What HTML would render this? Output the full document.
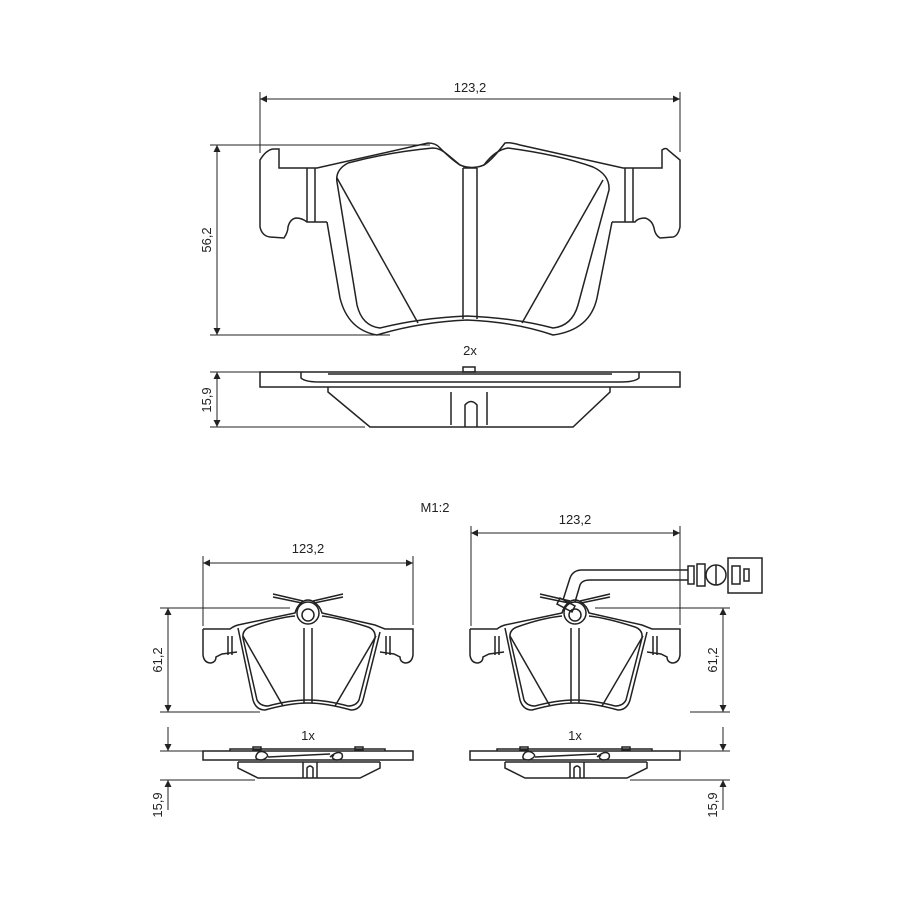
<!DOCTYPE html>
<html><head><meta charset="utf-8"><style>
html,body{margin:0;padding:0;background:#fff;}
svg{display:block;}
text{font-family:"Liberation Sans",sans-serif;font-size:13px;fill:#222;}
</style></head><body>
<svg width="900" height="900" viewBox="0 0 900 900" xmlns="http://www.w3.org/2000/svg">
<defs>
<marker id="a" viewBox="0 0 10 10" refX="10" refY="5" markerWidth="10" markerHeight="7" orient="auto-start-reverse" markerUnits="userSpaceOnUse"><path d="M0,0 L10,5 L0,10 z" fill="#222"/></marker>
<g id="bp" fill="none" stroke="#222" stroke-width="1.5">
  <path d="M203,629 L230,629 Q234,626 238,625 L295,613 Q297,606 302,602 Q308,598 314,602 Q320,606 322,613 L375,625 Q380,627 385,629 L413,629 L413,655 Q412,663 405,663 Q400,662 400,657 L394,654 L380,652"/>
  <path d="M203,629 L203,655 Q204,663 211,663 Q216,662 216,657 L222,654 L237,652"/>
  <path d="M238,628 L253,700 Q256,710 265,710 Q290,703 308,703 Q326,703 351,710 Q360,710 363,700 L380,632"/>
  <path d="M250,627 Q242,630 243,638 L257,700 Q260,706 268,706 Q290,700 308,700 Q326,700 348,706 Q356,706 359,700 L375,638 Q376,630 368,627 Q340,618 322,616"/>
  <path d="M250,627 Q275,618 295,616"/>
  <line x1="243" y1="636" x2="283" y2="706"/>
  <line x1="376" y1="636" x2="335" y2="706"/>
  <path d="M304,628 L304,703 M312,628 L312,703"/>
  <circle cx="308" cy="613" r="11"/>
  <circle cx="308" cy="615" r="6"/>
  <path d="M228,636 L228,655 M232,636 L232,655 M386,636 L386,655 M390,636 L390,655"/>
  <path d="M273,594 L303,601 M273,597 L302,603 M343,594 L313,601 M343,597 L314,603"/>
  <rect x="203" y="751" width="210" height="9"/>
  <path d="M230,751 L230,749 L385,749 L385,751"/>
  <path d="M238,762 L238,768 L258,778 L360,778 L380,768 L380,762"/>
  <path d="M238,762 L380,762"/>
  <path d="M303,762 L303,778 M317,762 L317,778 M307,778 L307,768 Q310,764 313,768 L313,778"/>
  <rect x="253" y="747" width="8" height="3"/>
  <rect x="355" y="747" width="8" height="3"/>
  <path d="M256,756 Q258,750 264,752 Q272,756 262,760 Q255,760 256,756 M268,757 L330,754 M330,757 Q338,750 342,754 Q344,760 336,760 Q330,758 334,755"/>
</g>
</defs>

<g fill="none" stroke="#222" stroke-width="1.5">
  <line x1="260" y1="99" x2="680" y2="99" marker-start="url(#a)" marker-end="url(#a)" stroke-width="1"/>
  <line x1="260" y1="92" x2="260" y2="153" stroke-width="1"/>
  <line x1="680" y1="92" x2="680" y2="152" stroke-width="1"/>
  <line x1="217" y1="145" x2="217" y2="335" marker-start="url(#a)" marker-end="url(#a)" stroke-width="1"/>
  <line x1="210" y1="145" x2="430" y2="145" stroke-width="1"/>
  <line x1="210" y1="335" x2="390" y2="335" stroke-width="1"/>
  <path d="M273,149 L279,149 L279,168 L317,168 L428,143 Q436,143 440,148 Q452,160 460,165 Q472,170 484,165 Q492,160 505,143 Q510,142 520,145 L623,168 L662,168 L662,150 Q666,147 668,150 L680,160 L680,227 Q678,236 673,237 L660,238 Q655,235 654,228 Q652,220 645,218 Q638,218 635,222 L612,222"/>
  <path d="M273,149 Q266,150 260,160 L260,227 Q262,236 270,237 L284,238 Q288,232 288,227 Q290,219 296,218 Q302,218 307,222 L327,222"/>
  <path d="M327,222 L340,298 Q348,330 377,335 Q420,322 467,320 Q515,322 553,335 Q590,330 597,298 L612,222"/>
  <path d="M348,163 Q335,170 337,182 L357,305 Q362,326 380,328 Q420,318 467,316 Q515,318 553,328 Q572,326 578,305 L609,190 Q610,175 593,167 Q560,155 508,148 Q495,150 484,165"/>
  <path d="M348,163 Q390,152 433,148 Q440,148 448,155 L460,165"/>
  <line x1="337" y1="178" x2="418" y2="323"/>
  <line x1="603" y1="180" x2="522" y2="323"/>
  <path d="M463,168 L463,319 M477,168 L477,319 M463,168 L477,168"/>
  <path d="M307,168 L307,222 M315,168 L315,222 M625,168 L625,222 M633,168 L633,222"/>
  <line x1="217" y1="372" x2="217" y2="427" marker-start="url(#a)" marker-end="url(#a)" stroke-width="1"/>
  <line x1="210" y1="372" x2="305" y2="372" stroke-width="1"/>
  <line x1="210" y1="427" x2="365" y2="427" stroke-width="1"/>
  <rect x="260" y="372" width="420" height="15"/>
  <path d="M301,372 L301,378 Q305,382 320,382 L620,382 Q635,382 639,378 L639,372"/>
  <path d="M328,374 L612,374"/>
  <rect x="463" y="367" width="12" height="5"/>
  <path d="M328,387 L328,392 L370,427 L573,427 L610,392 L610,387"/>
  <path d="M451,392 L451,425 M487,392 L487,425 M465,427 L465,405 Q471,398 477,405 L477,427"/>
</g>
<text x="470" y="92" text-anchor="middle">123,2</text>
<text x="211" y="240" text-anchor="middle" transform="rotate(-90 211 240)">56,2</text>
<text x="470" y="355" text-anchor="middle">2x</text>
<text x="211" y="400" text-anchor="middle" transform="rotate(-90 211 400)">15,9</text>
<text x="435" y="512" text-anchor="middle">M1:2</text>

<use href="#bp"/>
<g fill="none" stroke="#222" stroke-width="1">
  <line x1="203" y1="563" x2="413" y2="563" marker-start="url(#a)" marker-end="url(#a)"/>
  <line x1="203" y1="556" x2="203" y2="626"/>
  <line x1="413" y1="556" x2="413" y2="625"/>
  <line x1="168" y1="608" x2="168" y2="712" marker-start="url(#a)" marker-end="url(#a)"/>
  <line x1="160" y1="608" x2="290" y2="608"/>
  <line x1="160" y1="712" x2="260" y2="712"/>
  <line x1="168" y1="727" x2="168" y2="751" marker-end="url(#a)"/>
  <line x1="160" y1="751" x2="203" y2="751"/>
  <line x1="168" y1="810" x2="168" y2="780" marker-end="url(#a)"/>
  <line x1="160" y1="780" x2="255" y2="780"/>
</g>
<text x="308" y="553" text-anchor="middle">123,2</text>
<text x="162" y="660" text-anchor="middle" transform="rotate(-90 162 660)">61,2</text>
<text x="308" y="740" text-anchor="middle">1x</text>
<text x="162" y="805" text-anchor="middle" transform="rotate(-90 162 805)">15,9</text>

<use href="#bp" transform="translate(267,0)"/>
<g fill="none" stroke="#222" stroke-width="1">
  <line x1="471" y1="533" x2="680" y2="533" marker-start="url(#a)" marker-end="url(#a)"/>
  <line x1="471" y1="526" x2="471" y2="626"/>
  <line x1="680" y1="526" x2="680" y2="625"/>
  <line x1="723" y1="608" x2="723" y2="712" marker-start="url(#a)" marker-end="url(#a)"/>
  <line x1="595" y1="608" x2="730" y2="608"/>
  <line x1="690" y1="712" x2="730" y2="712"/>
  <line x1="723" y1="727" x2="723" y2="751" marker-end="url(#a)"/>
  <line x1="680" y1="751" x2="730" y2="751"/>
  <line x1="723" y1="810" x2="723" y2="780" marker-end="url(#a)"/>
  <line x1="630" y1="780" x2="730" y2="780"/>
</g>
<g fill="none" stroke="#222" stroke-width="1.5">
  <path d="M563,600 L570,578 Q573,570 582,570 L688,570"/>
  <path d="M575,602 L580,585 Q582,580 590,580 L688,580"/>
  <path d="M560,598 L575,606 L572,612 L557,604 Z"/>
  <rect x="688" y="566" width="6" height="18"/>
  <rect x="697" y="564" width="8" height="22"/>
  <circle cx="716" cy="575" r="10"/>
  <line x1="716" y1="565" x2="716" y2="585"/>
  <rect x="728" y="558" width="34" height="35"/>
  <rect x="732" y="566" width="8" height="18"/>
  <rect x="744" y="569" width="5" height="12"/>
</g>
<text x="575" y="524" text-anchor="middle">123,2</text>
<text x="717" y="660" text-anchor="middle" transform="rotate(-90 717 660)">61,2</text>
<text x="575" y="740" text-anchor="middle">1x</text>
<text x="717" y="805" text-anchor="middle" transform="rotate(-90 717 805)">15,9</text>
</svg>
</body></html>
